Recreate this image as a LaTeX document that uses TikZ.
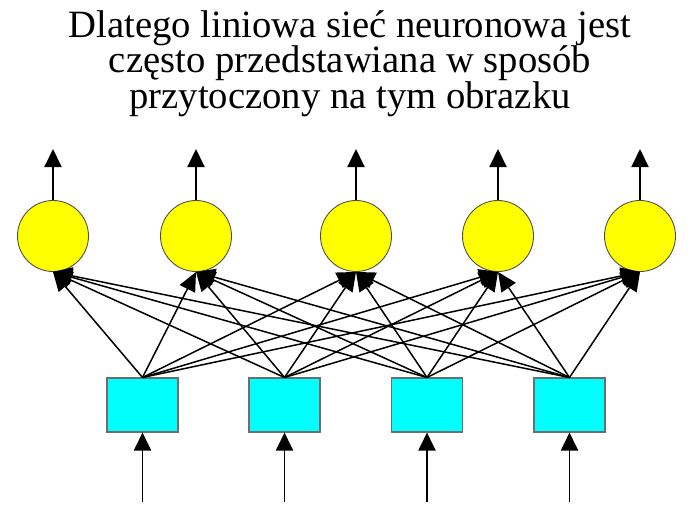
\documentclass[tikz,border=0pt]{standalone}
\usepackage{fontspec}
\setmainfont{Liberation Serif}
\usetikzlibrary{arrows.meta}
\definecolor{NeuronYellow}{RGB}{255, 255, 0}
\definecolor{InputCyan}{RGB}{0, 255, 255}
\definecolor{FrameGray}{RGB}{110, 110, 110}

\begin{document}
\begin{tikzpicture}[
        neuron/.style={circle, draw=FrameGray!70!black, fill=NeuronYellow, minimum size=1.42cm, inner sep=0pt, line width=0.5pt},
        inbox/.style={rectangle, draw=FrameGray, fill=InputCyan, minimum width=1.42cm, minimum height=1.08cm, inner sep=0pt, line width=0.6pt},
        arrow/.style={-{Triangle[length=0.36cm, width=0.34cm]}, line width=1.1pt, black},
        edge/.style={-{Triangle[length=0.38cm, width=0.34cm]}, line width=0.85pt, black}
    ]
        \useasboundingbox (0, 0) rectangle (14, -10.5);

        % Title
        \node[align=center, anchor=base, inner sep=0pt, font=\fontsize{22}{20.1}\selectfont] (title) at (7.0, -2.16)
            {Dlatego liniowa sieć neuronowa jest\\często przedstawiana w sposób\\przytoczony na tym obrazku};

        % Neurons & Inputs
        \node[neuron] (n1) at (1.06, -4.72) {};
        \node[neuron] (n2) at (3.92, -4.72) {};
        \node[neuron] (n3) at (7.12, -4.72) {};
        \node[neuron] (n4) at (9.96, -4.72) {};
        \node[neuron] (n5) at (12.80, -4.72) {};

        \node[inbox] (x1) at (2.85, -8.10) {};
        \node[inbox] (x2) at (5.69, -8.10) {};
        \node[inbox] (x3) at (8.54, -8.10) {};
        \node[inbox] (x4) at (11.39, -8.10) {};

        % Free ends of the outer arrows
        \coordinate (out1) at (1.06, -2.98);
        \coordinate (out2) at (3.92, -2.98);
        \coordinate (out3) at (7.12, -2.98);
        \coordinate (out4) at (9.96, -2.98);
        \coordinate (out5) at (12.80, -2.98);

        \coordinate (in1) at (2.85, -10.04);
        \coordinate (in2) at (5.69, -10.04);
        \coordinate (in3) at (8.54, -10.04);
        \coordinate (in4) at (11.39, -10.04);

        % Inputs into boxes
        \draw[arrow] (in1) -- (x1.south);
        \draw[arrow] (in2) -- (x2.south);
        \draw[arrow] (in3) -- (x3.south);
        \draw[arrow] (in4) -- (x4.south);

        % Outputs of neurons
        \draw[arrow] (n1.north) -- (out1);
        \draw[arrow] (n2.north) -- (out2);
        \draw[arrow] (n3.north) -- (out3);
        \draw[arrow] (n4.north) -- (out4);
        \draw[arrow] (n5.north) -- (out5);

        % Connections
        \draw[edge] (x1.north) -- (n1.south);
        \draw[edge] (x1.north) -- (n2.south);
        \draw[edge] (x1.north) -- (n3.south);
        \draw[edge] (x1.north) -- (n4.south);
        \draw[edge] (x1.north) -- (n5.south);

        \draw[edge] (x2.north) -- (n1.south);
        \draw[edge] (x2.north) -- (n2.south);
        \draw[edge] (x2.north) -- (n3.south);
        \draw[edge] (x2.north) -- (n4.south);
        \draw[edge] (x2.north) -- (n5.south);

        \draw[edge] (x3.north) -- (n1.south);
        \draw[edge] (x3.north) -- (n2.south);
        \draw[edge] (x3.north) -- (n3.south);
        \draw[edge] (x3.north) -- (n4.south);
        \draw[edge] (x3.north) -- (n5.south);

        \draw[edge] (x4.north) -- (n1.south);
        \draw[edge] (x4.north) -- (n2.south);
        \draw[edge] (x4.north) -- (n3.south);
        \draw[edge] (x4.north) -- (n4.south);
        \draw[edge] (x4.north) -- (n5.south);
    \end{tikzpicture}
\end{document}
